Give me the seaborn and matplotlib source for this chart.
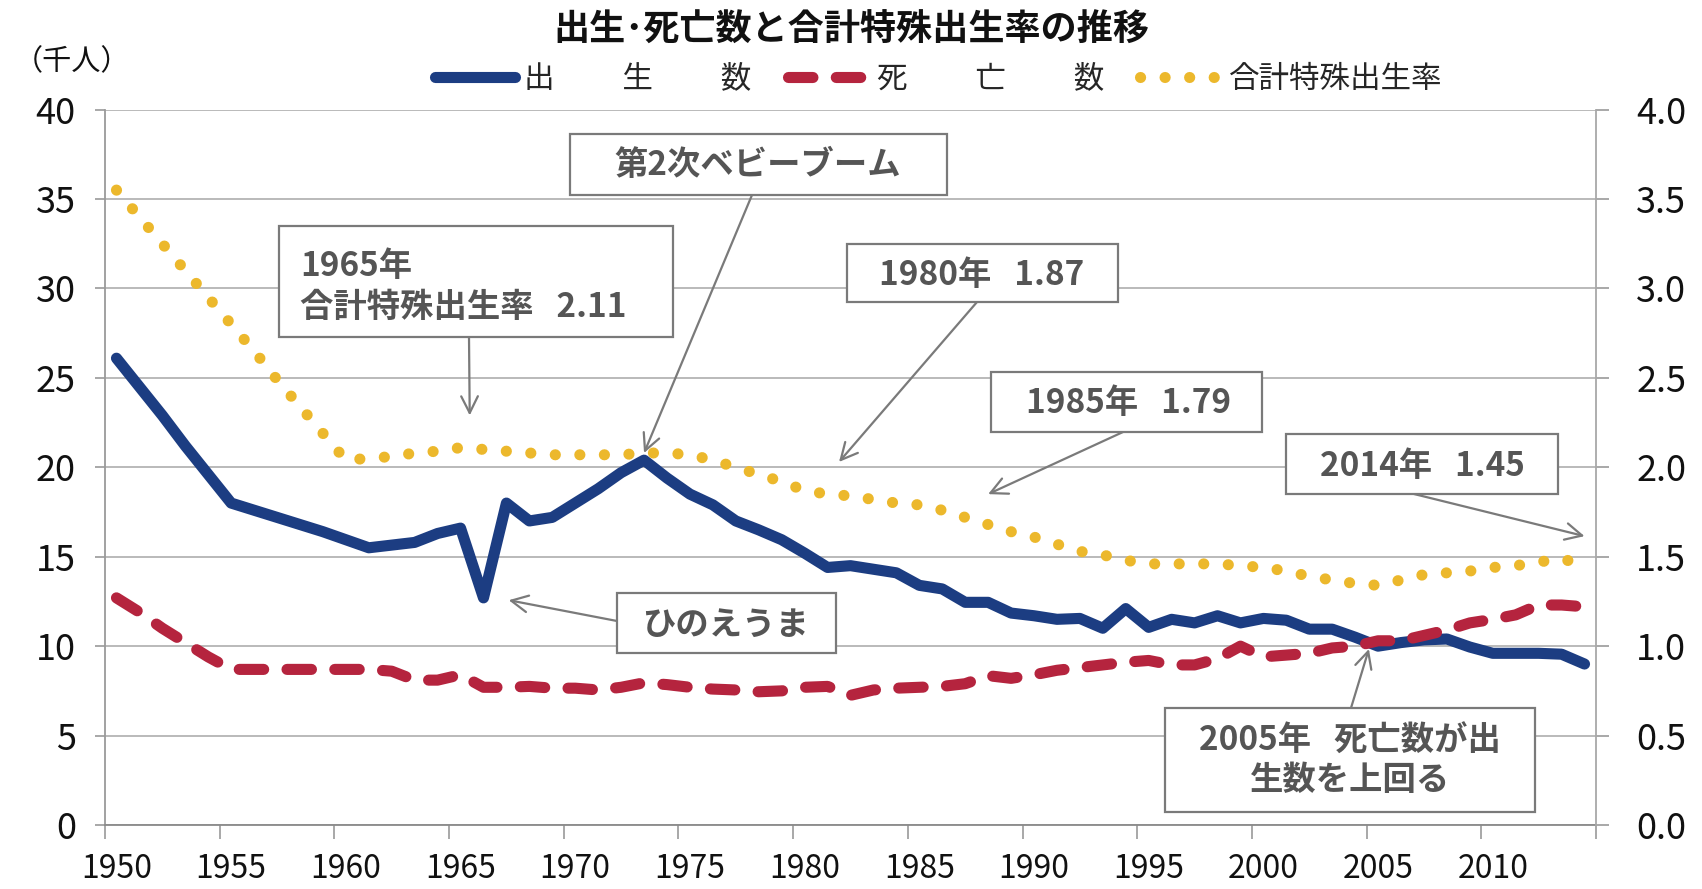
import numpy as np
import matplotlib
matplotlib.use("Agg")
import matplotlib.pyplot as plt
from matplotlib.patches import Rectangle
import seaborn as sns

# data (births / deaths in thousands, TFR on right axis)
years = list(range(1950, 2015))
births = [
    26.1, 24.5, 22.9, 21.2, 19.6,
    18.0, 17.6, 17.2, 16.8, 16.4,
    15.95, 15.5, 15.65, 15.8, 16.3,
    16.6, 12.7, 18.0, 17.0, 17.2,
    18.0, 18.8, 19.7, 20.4, 19.4,
    18.5, 17.9, 17.0, 16.5, 15.95,
    15.2, 14.4, 14.5, 14.3, 14.1,
    13.4, 13.2, 12.45, 12.45, 11.85,
    11.7, 11.5, 11.55, 11.0, 12.1,
    11.05, 11.5, 11.3, 11.7, 11.3,
    11.55, 11.45, 10.95, 10.95, 10.5,
    10.0, 10.2, 10.35, 10.4, 9.95,
    9.6, 9.6, 9.6, 9.55, 9.0,
]
deaths = [
    12.7, 11.9, 11.0, 10.2, 9.4,
    8.7, 8.7, 8.7, 8.7, 8.7,
    8.7, 8.7, 8.6, 8.1, 8.1,
    8.4, 7.7, 7.7, 7.75, 7.65,
    7.65, 7.55, 7.7, 7.95, 7.85,
    7.7, 7.6, 7.55, 7.45, 7.5,
    7.7, 7.75, 7.25, 7.55, 7.65,
    7.7, 7.75, 7.9, 8.35, 8.2,
    8.4, 8.65, 8.8, 8.95, 9.1,
    9.2, 8.95, 8.95, 9.3, 10.0,
    9.4, 9.5, 9.6, 9.9, 10.0,
    10.3, 10.3, 10.6, 10.9, 11.3,
    11.5, 11.75, 12.3, 12.3, 12.2,
]
tfr = [
    3.55, 3.40, 3.25, 3.10, 2.95,
    2.80, 2.65, 2.49, 2.34, 2.19,
    2.04, 2.05, 2.06, 2.08, 2.09,
    2.11, 2.10, 2.09, 2.08, 2.07,
    2.07, 2.07, 2.07, 2.08, 2.08,
    2.07, 2.04, 2.00, 1.96, 1.92,
    1.87, 1.85, 1.84, 1.82, 1.80,
    1.79, 1.76, 1.72, 1.68, 1.64,
    1.61, 1.57, 1.53, 1.51, 1.48,
    1.46, 1.46, 1.46, 1.46, 1.45,
    1.44, 1.42, 1.39, 1.37, 1.35,
    1.34, 1.37, 1.40, 1.41, 1.42,
    1.44, 1.45, 1.47, 1.49, 1.45,
]

title = "出生･死亡数と合計特殊出生率の推移"
legend_labels = ["出　　 生　　 数", "死　　 亡　　 数", "合計特殊出生率"]
x_ticks = list(range(1950, 2015, 5))
left_ticks = list(range(0, 45, 5))
right_ticks = [0.0, 0.5, 1.0, 1.5, 2.0, 2.5, 3.0, 3.5, 4.0]

BLUE = "#1c3d82"
RED = "#b5243e"
YELLOW = "#ecb82c"
GRID = "#b4b4b4"
NOTE = "#555555"

sns.set_style("white")
plt.rcParams["font.family"] = ["Noto Sans CJK JP", "DejaVu Sans"]

W, H = 1702, 889
fig = plt.figure(figsize=(W / 100, H / 100), dpi=100)
ax = fig.add_axes([105 / W, 1 - 825 / H, (1596 - 105) / W, (825 - 109.6) / H])
ax2 = ax.twinx()

sns.lineplot(x=years, y=births, ax=ax, color=BLUE, linewidth=8,
             solid_capstyle="round", solid_joinstyle="round")
sns.lineplot(x=years, y=deaths, ax=ax, color=RED, linewidth=8,
             linestyle=(0, (2.2, 2.1)), dash_capstyle="round", dash_joinstyle="round")
sns.lineplot(x=years, y=tfr, ax=ax2, color=YELLOW, linewidth=8,
             linestyle=(0, (0.01, 2.2)), dash_capstyle="round")

ax.set_xlim(1949.5, 2014.5)
ax.set_ylim(0, 40)
ax2.set_ylim(0, 4)
ax.set_xticks(x_ticks)
ax.set_xticklabels([str(y) for y in x_ticks])
ax.set_xticks(np.arange(1949.5, 2015, 5), minor=True)
ax.set_yticks(left_ticks)
ax.set_yticklabels([str(v) for v in left_ticks])
ax2.set_yticks(right_ticks)
ax2.set_yticklabels([f"{v:.1f}" for v in right_ticks])
ax.set_xlabel("")
ax.set_ylabel("")
ax2.set_ylabel("")

ax.grid(axis="y", color=GRID, linewidth=1.3)
ax.grid(axis="x", visible=False)
ax2.grid(False)
ax.set_axisbelow(True)

ax.tick_params(axis="x", which="major", length=0, labelsize=23, pad=20, labelcolor="#111111")
ax.tick_params(axis="x", which="minor", length=10, width=1.2, color="#999999", bottom=True)
ax.tick_params(axis="y", length=7, width=1.2, color="#999999", labelsize=26, pad=14,
               labelcolor="#111111", left=True)
ax2.tick_params(axis="y", length=9, width=1.2, color="#999999", labelsize=26, pad=20,
                labelcolor="#111111", right=True)

for sp in ["top", "right"]:
    ax.spines[sp].set_visible(False)
for sp in ["top", "left", "bottom"]:
    ax2.spines[sp].set_visible(False)
ax.spines["left"].set_color("#9a9a9a")
ax.spines["bottom"].set_color("#8a8a8a")
ax2.spines["right"].set_color("#a8a8a8")
for sp in [ax.spines["left"], ax.spines["bottom"], ax2.spines["right"]]:
    sp.set_linewidth(1.3)

# legend
for a in (ax, ax2):
    if a.get_legend() is not None:
        a.get_legend().remove()
handles = [ax.lines[0], ax.lines[1], ax2.lines[0]]
fig.legend(handles, legend_labels, loc="center", bbox_to_anchor=(939 / W, 1 - 79 / H),
           ncol=3, frameon=False, fontsize=22, handlelength=2.6, handletextpad=0.3,
           columnspacing=1.2)

fig.text(851 / W, 1 - 30 / H, title, ha="center", va="center", fontsize=26,
         fontweight="bold", color="#111111")
fig.text(72 / W, 1 - 62 / H, "（千人）", ha="center", va="center", fontsize=21,
         color="#111111")


def note_box(x0, y0, x1, y1):
    fig.add_artist(Rectangle((x0 / W, 1 - y1 / H), (x1 - x0) / W, (y1 - y0) / H,
                             transform=fig.transFigure, facecolor="white",
                             edgecolor="#7a7a7a", linewidth=1.6, zorder=5))


def note_text(x, y, s, ha="center", ls=1.2):
    fig.text(x / W, 1 - y / H, s, ha=ha, va="center", fontsize=24, fontweight="bold",
             color=NOTE, zorder=6, linespacing=ls)


def note_arrow(x, y, tip_year, tip_val):
    ax2.annotate("", xy=(tip_year, tip_val), xycoords=ax.transData,
                 xytext=(x, H - y), textcoords="figure pixels",
                 arrowprops=dict(arrowstyle="->", color="#7a7a7a", lw=1.6,
                                 mutation_scale=30, shrinkA=0, shrinkB=0),
                 annotation_clip=False, zorder=6)


# 第2次ベビーブーム
note_box(570, 134, 947, 195)
note_text(758, 166, "第2次ベビーブーム")
note_arrow(752, 195, 1973.0, 20.8)

# 1965
note_box(279, 226, 673, 337)
note_text(300, 287, "1965年\n合計特殊出生率   2.11", ha="left", ls=1.3)
note_arrow(469, 337, 1965.4, 22.9)

# 1980
note_box(847, 244, 1118, 302)
note_text(982, 275, "1980年   1.87")
note_arrow(977, 302, 1981.5, 20.3)

# 1985
note_box(991, 372, 1262, 432)
note_text(1129, 404, "1985年   1.79")
note_arrow(1123, 432, 1988.0, 18.5)

# 2014
note_box(1286, 434, 1558, 494)
note_text(1422, 466, "2014年   1.45")
note_arrow(1414, 494, 2014.0, 16.15)

# ひのえうま
note_box(617, 593, 836, 653)
note_text(726, 625, "ひのえうま")
note_arrow(617, 621, 1967.1, 12.57)

# 2005
note_box(1165, 708, 1535, 812)
note_text(1350, 761, "2005年   死亡数が出\n生数を上回る", ls=1.25)
note_arrow(1351, 708, 2004.6, 9.84)

fig.savefig("out.png", dpi=100)
